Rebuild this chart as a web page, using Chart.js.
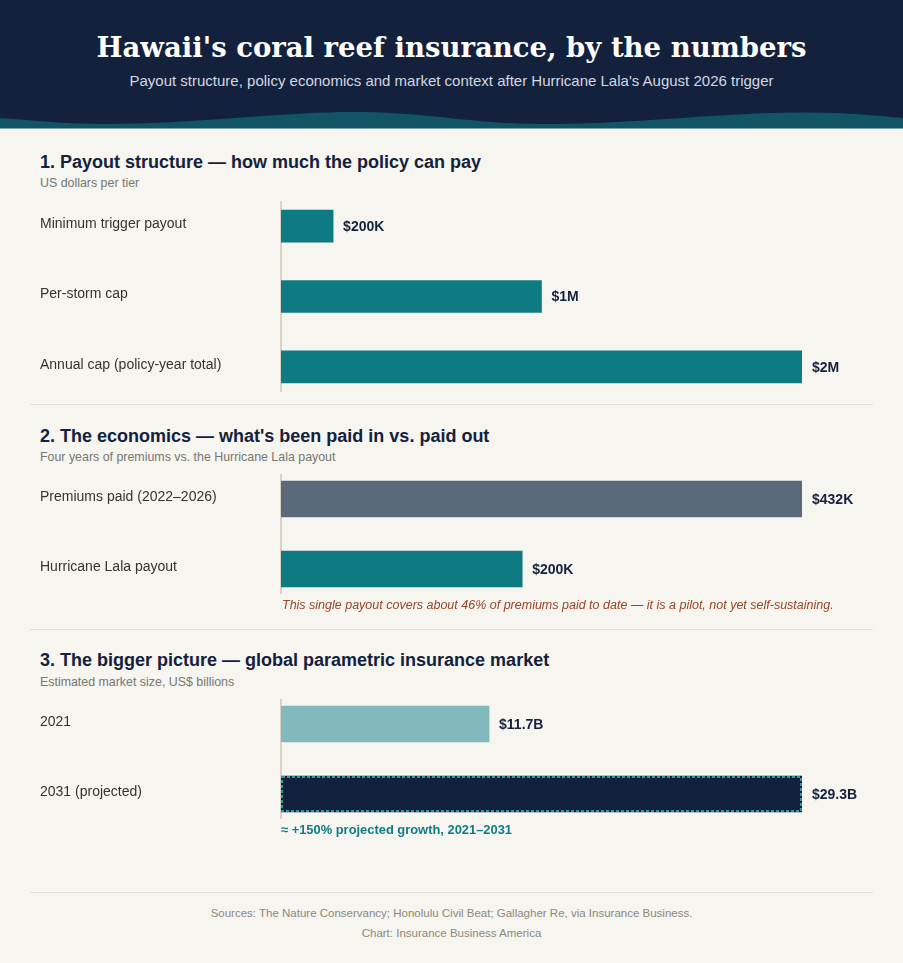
<!DOCTYPE html>
<html><head><meta charset="utf-8">
<script src="https://cdn.jsdelivr.net/npm/chart.js@4.4.1/dist/chart.umd.min.js"></script>
<style>
html,body{margin:0;padding:0;}
body{width:903px;height:963px;background:#f6f5f0;position:relative;overflow:hidden;font-family:"Liberation Sans",Arial,sans-serif;}
.abs{position:absolute;white-space:nowrap;}
#header{position:absolute;left:0;top:0;width:903px;height:129px;background:#14213d;}
#title{left:0;width:903px;top:30px;text-align:center;font:bold 27.5px/34px "DejaVu Serif",Georgia,serif;color:#ffffff;}
#subtitle{left:0;width:903px;top:71px;text-align:center;font:15px/20px "Liberation Sans",Arial,sans-serif;color:#d3d8e2;}
.h2{left:40px;font:bold 18px/22px "Liberation Sans",Arial,sans-serif;color:#14213d;}
.sub{left:40px;font:12.4px/16px "Liberation Sans",Arial,sans-serif;color:#777772;}
.sep{position:absolute;left:30px;width:843px;height:0;border-top:1.5px solid #e4dfd4;}
.note{left:282px;font:italic 12.5px/16px "Liberation Sans",Arial,sans-serif;color:#9b4325;}
.growth{left:281px;font:bold 12.9px/16px "Liberation Sans",Arial,sans-serif;color:#0e7c86;}
.foot{left:0;width:903px;text-align:center;font:11.5px/16px "Liberation Sans",Arial,sans-serif;color:#8c887c;}
canvas{position:absolute;}
</style>
</head>
<body>
<div id="header">
  <svg width="903" height="129" style="position:absolute;left:0;top:0" viewBox="0 0 903 129">
    <path d="M0,118 C40,121 70,124 104,124 C200,124 280,112 351,112 C430,112 470,124 541,124 C640,124 720,112.5 801,112.5 C850,112.5 880,116 903,118 L903,129 L0,129 Z" fill="#115466"/>
    <rect x="0" y="128" width="903" height="1" fill="#7fa7ab"/>
  </svg>
  <div id="title" class="abs">Hawaii's coral reef insurance, by the numbers</div>
  <div id="subtitle" class="abs">Payout structure, policy economics and market context after Hurricane Lala's August 2026 trigger</div>
</div>

<div class="abs h2" style="top:151px">1. Payout structure — how much the policy can pay</div>
<div class="abs sub" style="top:175px">US dollars per tier</div>
<canvas id="c1" width="833" height="211" style="left:40px;top:191px"></canvas>
<div class="sep" style="top:404px"></div>

<div class="abs h2" style="top:425px">2. The economics — what's been paid in vs. paid out</div>
<div class="abs sub" style="top:449px">Four years of premiums vs. the Hurricane Lala payout</div>
<canvas id="c2" width="833" height="140" style="left:40px;top:464px"></canvas>
<div class="abs note" style="top:597px">This single payout covers about 46% of premiums paid to date — it is a pilot, not yet self-sustaining.</div>
<div class="sep" style="top:629px"></div>

<div class="abs h2" style="top:649px">3. The bigger picture — global parametric insurance market</div>
<div class="abs sub" style="top:674px">Estimated market size, US$ billions</div>
<canvas id="c3" width="833" height="140" style="left:40px;top:689px"></canvas>
<div class="abs growth" style="top:822px">≈ +150% projected growth, 2021–2031</div>
<div class="sep" style="top:892px"></div>

<div class="abs foot" style="top:905px">Sources: The Nature Conservancy; Honolulu Civil Beat; Gallagher Re, via Insurance Business.</div>
<div class="abs foot" style="top:925px">Chart: Insurance Business America</div>

<script>
// ---- Data ----
const payoutLabels = ['Minimum trigger payout', 'Per-storm cap', 'Annual cap (policy-year total)'];
const payoutValues = [200000, 1000000, 2000000];
const payoutText   = ['$200K', '$1M', '$2M'];

const econLabels = ['Premiums paid (2022–2026)', 'Hurricane Lala payout'];
const econValues = [432000, 200000];
const econText   = ['$432K', '$200K'];

const marketLabels = ['2021', '2031 (projected)'];
const marketValues = [11.7, 29.3];
const marketText   = ['$11.7B', '$29.3B'];
const marketProjected = [false, true];

// ---- Styling ----
const FONT = '"Liberation Sans", Arial, sans-serif';

const decoPlugin = {
  id: 'deco',
  beforeDatasetsDraw(chart) {
    const {ctx, chartArea: a} = chart;
    ctx.save();
    ctx.strokeStyle = '#dad2c4';
    ctx.lineWidth = 2;
    ctx.beginPath();
    ctx.moveTo(a.left, a.top + 10);
    ctx.lineTo(a.left, a.bottom - 10);
    ctx.stroke();
    ctx.restore();
  },
  afterDatasetsDraw(chart, args, opts) {
    const {ctx} = chart;
    const meta = chart.getDatasetMeta(0);
    ctx.save();
    meta.data.forEach((bar, i) => {
      if (opts.dashed && opts.dashed[i]) {
        const h = bar.height;
        ctx.save();
        ctx.strokeStyle = '#2a9aa0';
        ctx.lineWidth = 2;
        ctx.setLineDash([3, 2]);
        ctx.strokeRect(bar.base + 1, bar.y - h / 2 + 1, bar.x - bar.base - 2, h - 2);
        ctx.restore();
      }
      ctx.font = 'bold 14px ' + FONT;
      ctx.fillStyle = '#14213d';
      ctx.textBaseline = 'middle';
      ctx.textAlign = 'left';
      ctx.fillText(opts.texts[i], bar.x + 10, bar.y + 1);
    });
    ctx.restore();
  }
};

function makeChart(id, labels, values, texts, colors, thick, dashed) {
  return new Chart(document.getElementById(id), {
    type: 'bar',
    data: {
      labels: labels,
      datasets: [{
        data: values,
        backgroundColor: colors,
        borderWidth: 0,
        barThickness: thick
      }]
    },
    options: {
      indexAxis: 'y',
      responsive: false,
      animation: false,
      layout: {padding: {left: 0, right: 71, top: 0, bottom: 0}},
      plugins: {
        legend: {display: false},
        tooltip: {enabled: false},
        deco: {texts: texts, dashed: dashed}
      },
      scales: {
        x: {display: false, min: 0, max: Math.max(...values)},
        y: {
          grid: {display: false},
          border: {display: false},
          ticks: {
            crossAlign: 'far',
            padding: 0,
            labelOffset: -2,
            color: '#333333',
            font: {family: FONT, size: 14}
          },
          afterFit(s) { s.width = 241; s.paddingTop = 0; s.paddingBottom = 0; }
        }
      }
    },
    plugins: [decoPlugin]
  });
}

makeChart('c1', payoutLabels, payoutValues, payoutText, ['#0e7a82', '#0e7a82', '#0e7a82'], 32, null);
makeChart('c2', econLabels, econValues, econText, ['#5b6a7b', '#0e7a82'], 36, null);
makeChart('c3', marketLabels, marketValues, marketText, ['#82b9bd', '#14213d'], 36, marketProjected);
</script>
</body></html>
